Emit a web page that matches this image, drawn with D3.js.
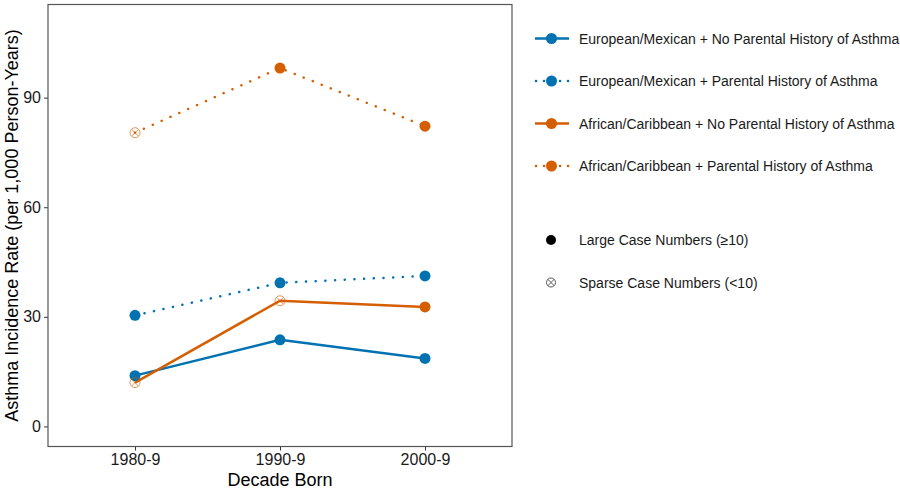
<!DOCTYPE html>
<html>
<head>
<meta charset="utf-8">
<script src="https://cdn.jsdelivr.net/npm/d3@7"></script>
<style>
  body { margin: 0; background: #fff; }
  text { font-family: "Liberation Sans", Arial, sans-serif; }
</style>
</head>
<body>
<div id="chart"></div>
<script>
// data
var decades = ["1980-9", "1990-9", "2000-9"];
var seriesNames = [
  "European/Mexican + No Parental History of Asthma",
  "European/Mexican + Parental History of Asthma",
  "African/Caribbean + No Parental History of Asthma",
  "African/Caribbean + Parental History of Asthma"
];
var euroNoHist = [13.9, 23.7, 18.6];
var euroHist = [30.4, 39.3, 41.2];
var afrNoHist = [12.0, 34.4, 32.7];
var afrHist = [80.4, 98.1, 82.2];
// true = sparse case numbers (<10)
var euroNoHistSparse = [false, false, false];
var euroHistSparse = [false, false, false];
var afrNoHistSparse = [true, true, false];
var afrHistSparse = [true, false, false];
var yTicks = [0, 30, 60, 90];

var blue = "#0072B2", orange = "#D55E00";
var series = [
  { name: seriesNames[0], values: euroNoHist, sparse: euroNoHistSparse, color: blue, dotted: false },
  { name: seriesNames[1], values: euroHist, sparse: euroHistSparse, color: blue, dotted: true },
  { name: seriesNames[2], values: afrNoHist, sparse: afrNoHistSparse, color: orange, dotted: false },
  { name: seriesNames[3], values: afrHist, sparse: afrHistSparse, color: orange, dotted: true }
];

var W = 900, H = 489;
var panel = { left: 48, right: 512, top: 4.5, bottom: 446.5 };

var svg = d3.select("#chart").append("svg")
  .attr("width", W).attr("height", H);

var xscale = d3.scaleLinear().domain([0.4, 3.6]).range([panel.left, panel.right]);
var yscale = d3.scaleLinear().domain([-5.5, 115.5]).range([panel.bottom, panel.top]);

// axes
var xAxis = d3.axisBottom(xscale)
  .tickValues([1, 2, 3])
  .tickFormat(function(d) { return decades[d - 1]; })
  .tickSizeInner(4).tickSizeOuter(0).tickPadding(3);
var yAxis = d3.axisLeft(yscale)
  .tickValues(yTicks)
  .tickSizeInner(4).tickSizeOuter(0).tickPadding(3);

var gx = svg.append("g").attr("transform", "translate(0," + panel.bottom + ")").call(xAxis);
var gy = svg.append("g").attr("transform", "translate(" + panel.left + ",0)").call(yAxis);
[gx, gy].forEach(function(g) {
  g.select(".domain").remove();
  g.selectAll(".tick line").attr("stroke", "#333").attr("stroke-width", 1);
  g.selectAll(".tick text").attr("fill", "#1a1a1a").style("font-size", "16px")
    .style("font-family", "'Liberation Sans', Arial, sans-serif");
});

// panel border
svg.append("rect")
  .attr("x", panel.left).attr("y", panel.top)
  .attr("width", panel.right - panel.left).attr("height", panel.bottom - panel.top)
  .attr("fill", "none").attr("stroke", "#555").attr("stroke-width", 1.2);

// axis titles
svg.append("text")
  .attr("x", (panel.left + panel.right) / 2).attr("y", 486)
  .attr("text-anchor", "middle").style("font-size", "18px").attr("fill", "#000")
  .text("Decade Born");
svg.append("text")
  .attr("transform", "translate(18," + ((panel.top + panel.bottom) / 2) + ") rotate(-90)")
  .attr("text-anchor", "middle").style("font-size", "18px").attr("fill", "#000")
  .text("Asthma Incidence Rate (per 1,000 Person-Years)");

// lines
var line = d3.line()
  .x(function(d, i) { return xscale(i + 1); })
  .y(function(d) { return yscale(d); });

svg.selectAll(".series-line")
  .data(series)
  .enter()
  .append("path")
  .attr("class", "series-line")
  .attr("d", function(d) { return line(d.values); })
  .attr("fill", "none")
  .attr("stroke", function(d) { return d.color; })
  .attr("stroke-width", 2.5)
  .attr("stroke-linecap", function(d) { return d.dotted ? "round" : "butt"; })
  .attr("stroke-dasharray", function(d) { return d.dotted ? "0.1 9.6" : null; });

// sparse marker: open circle with X
function sparseMarker(g, cx, cy, r, color, op) {
  var m = g.append("g").attr("opacity", op);
  m.append("circle").attr("cx", cx).attr("cy", cy).attr("r", r)
    .attr("fill", "none").attr("stroke", color).attr("stroke-width", 1);
  var k = r * 0.707;
  m.append("line").attr("x1", cx - k).attr("y1", cy - k).attr("x2", cx + k).attr("y2", cy + k)
    .attr("stroke", color).attr("stroke-width", 1);
  m.append("line").attr("x1", cx - k).attr("y1", cy + k).attr("x2", cx + k).attr("y2", cy - k)
    .attr("stroke", color).attr("stroke-width", 1);
}

var pts = svg.append("g");
series.forEach(function(s) {
  s.values.forEach(function(v, i) {
    var cx = xscale(i + 1), cy = yscale(v);
    if (s.sparse[i]) {
      sparseMarker(pts, cx, cy, 5, s.color, 0.65);
    } else {
      pts.append("circle").attr("cx", cx).attr("cy", cy).attr("r", 5.5)
        .attr("fill", s.color);
    }
  });
});

// legend
var legend = svg.append("g");
var legY = [38.5, 81, 123.5, 166];
series.forEach(function(s, i) {
  var y = legY[i];
  legend.append("line")
    .attr("x1", 535).attr("x2", 569).attr("y1", y).attr("y2", y)
    .attr("stroke", s.color).attr("stroke-width", 2.5)
    .attr("stroke-linecap", s.dotted ? "round" : "butt")
    .attr("stroke-dasharray", s.dotted ? "0.1 7.9" : null)
    .attr("stroke-dashoffset", s.dotted ? -1 : 0);
  legend.append("circle").attr("cx", 551.5).attr("cy", y).attr("r", 5.5).attr("fill", s.color);
  legend.append("text").attr("x", 579).attr("y", y + 5)
    .style("font-size", "14px").attr("fill", "#1a1a1a").text(s.name);
});

legend.append("circle").attr("cx", 551).attr("cy", 240).attr("r", 5).attr("fill", "#000");
legend.append("text").attr("x", 579).attr("y", 245)
  .style("font-size", "14px").attr("fill", "#1a1a1a").text("Large Case Numbers (\u226510)");
sparseMarker(legend, 551, 282.5, 4.5, "#333", 0.8);
legend.append("text").attr("x", 579).attr("y", 287.5)
  .style("font-size", "14px").attr("fill", "#1a1a1a").text("Sparse Case Numbers (<10)");
</script>
</body>
</html>
